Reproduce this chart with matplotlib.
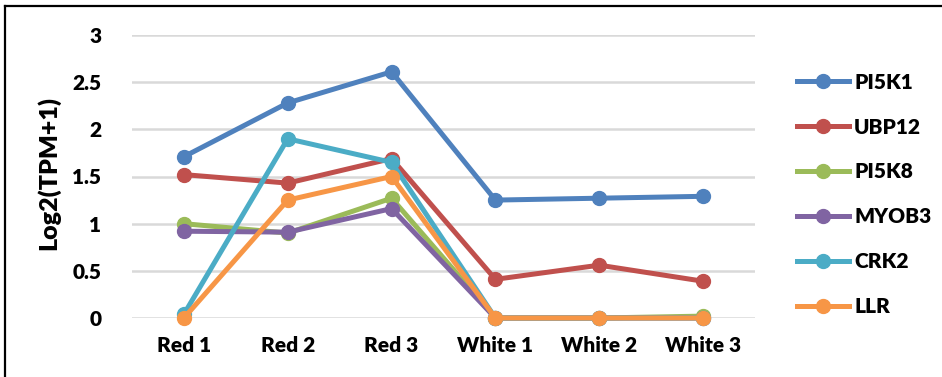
import matplotlib
matplotlib.use("Agg")
import matplotlib.pyplot as plt
from matplotlib.lines import Line2D

samples = ["Red 1", "Red 2", "Red 3", "White 1", "White 2", "White 3"]
genes = ["PI5K1", "UBP12", "PI5K8", "MYOB3", "CRK2", "LLR"]
pi5k1 = [1.71, 2.28, 2.61, 1.25, 1.27, 1.29]
ubp12 = [1.52, 1.43, 1.69, 0.41, 0.56, 0.39]
pi5k8 = [1.00, 0.90, 1.27, 0.00, 0.00, 0.02]
myob3 = [0.92, 0.91, 1.16, 0.00, 0.00, 0.00]
crk2 = [0.04, 1.90, 1.65, 0.00, 0.00, 0.00]
llr = [0.00, 1.25, 1.50, 0.00, 0.00, 0.00]
colors = ["#4F81BD", "#C0504D", "#9BBB59", "#8064A2", "#4BACC6", "#F79646"]
yticks = [0, 0.5, 1, 1.5, 2, 2.5, 3]
ytick_labels = ["0", "0.5", "1", "1.5", "2", "2.5", "3"]

plt.rcParams["font.family"] = ["Lato", "DejaVu Sans"]
plt.rcParams["font.weight"] = "heavy"
W = "heavy"
FS = 15

fig = plt.figure(figsize=(9.42, 3.77), dpi=100)
ax = fig.add_axes([132 / 942, 59 / 377, 623 / 942, 283 / 377])

series = [pi5k1, ubp12, pi5k8, myob3, crk2, llr]
x = list(range(len(samples)))
for name, vals, c in zip(genes, series, colors):
    ax.plot(x, vals, color=c, lw=3.6, marker="o", ms=10, label=name,
            clip_on=False, zorder=3, solid_capstyle="round")

ax.set_xlim(-0.5, len(samples) - 0.5)
ax.set_ylim(0, 3)
ax.set_yticks(yticks)
ax.set_yticklabels(ytick_labels)
ax.set_xticks(x)
ax.set_xticklabels(samples)
ax.tick_params(axis="both", length=0, labelsize=FS)
ax.tick_params(axis="y", pad=22)
ax.tick_params(axis="x", pad=13)
for lab in ax.get_xticklabels() + ax.get_yticklabels():
    lab.set_fontweight(W)
ax.grid(axis="y", color="#D9D9D9", lw=1.8, zorder=0)
ax.set_axisbelow(True)
for s in ax.spines.values():
    s.set_visible(False)

fig.text(48 / 942, 1 - 173 / 377, "Log2(TPM+1)", rotation=90, ha="center",
         va="center", fontsize=18, fontweight=W)

handles = [Line2D([], [], color=c, lw=3.6, marker="o", ms=10) for c in colors]
leg = fig.legend(handles, genes, loc="upper left",
                 bbox_to_anchor=(778 / 942, 1 - 54 / 377), frameon=False,
                 handlelength=2.5, handletextpad=0.25, labelspacing=1.24,
                 prop={"size": FS, "weight": W})

# outer chart frame
fig.add_artist(Line2D([4.5 / 942, 4.5 / 942], [0, 1 - 6 / 377], color="black",
                      lw=1.6, transform=fig.transFigure))
fig.add_artist(Line2D([4.5 / 942, 1], [1 - 6 / 377, 1 - 6 / 377], color="black",
                      lw=1.6, transform=fig.transFigure))

fig.savefig("out.png", dpi=100)
